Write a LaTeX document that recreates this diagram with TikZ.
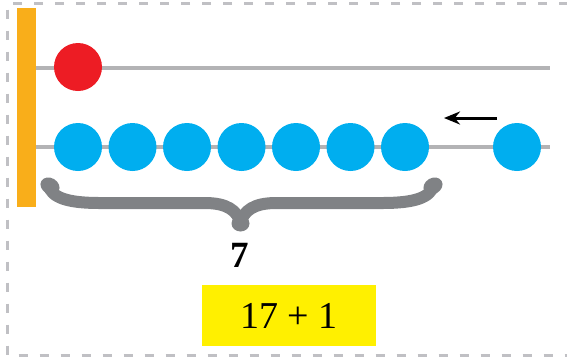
\documentclass[tikz,border=0pt]{standalone}
\usepackage{fontspec}
\setmainfont{Liberation Serif}
\usetikzlibrary{arrows.meta}
\definecolor{barorange}{HTML}{F9AE1A}
\definecolor{ballred}{HTML}{ED1C24}
\definecolor{ballblue}{HTML}{00AEEF}
\definecolor{wiregray}{HTML}{B3B3B5}
\definecolor{bracegray}{HTML}{808285}
\definecolor{boxyellow}{HTML}{FFF000}
\definecolor{framegray}{HTML}{C0C0C4}
\tikzset{
  ball/.style={circle, minimum size=48pt, inner sep=0pt, draw=none},
  redball/.style={ball, fill=ballred},
  blueball/.style={ball, fill=ballblue},
  wire/.style={draw=wiregray, line width=3.5pt},
  bracepath/.style={draw=bracegray, line width=12pt, line cap=round, line join=round},
  bracebulb/.style={fill=bracegray},
  frameline/.style={draw=framegray, line width=3pt, dash pattern=on 9pt off 12pt},
}
\begin{document}
\begin{tikzpicture}[x=1pt, y=-1pt]
\useasboundingbox (0,0) rectangle (567,360);
% frame
\draw[frameline] (568,3.5) -- (7,3.5) -- (7,355) -- (568,355);
% wires
\coordinate (w1s) at (36,68);
\coordinate (w1e) at (550,68);
\coordinate (w2s) at (36,147);
\coordinate (w2e) at (550,147);
\draw[wire] (w1s) -- (w1e);
\draw[wire] (w2s) -- (w2e);
% bar
\node[fill=barorange, minimum width=19pt, minimum height=199pt, inner sep=0pt, anchor=north west] (bar) at (17,8) {};
% balls
\node[redball] (r1) at (78,67) {};
\foreach \i/\x in {1/78,2/132.5,3/187,4/241.5,5/296,6/350.5,7/405}{
  \node[blueball] (b\i) at (\x,147) {};
}
\node[blueball] (b8) at (517,147) {};
% arrow
\coordinate (as) at (497,118);
\coordinate (ae) at (444,118);
\draw[line width=3pt, -{Stealth[length=16pt, width=13pt]}] (as) -- (ae);
% brace
\draw[bracepath] (48,184) .. controls (51,198) and (68,203) .. (100,203) -- (205,203)
  .. controls (226,203) and (238,210) .. (240.5,224)
  .. controls (243,210) and (255,203) .. (276,203) -- (382,203)
  .. controls (414,203) and (431,198) .. (434,184);
\fill[bracebulb, rotate around={-30:(50,186)}] (50,186) ellipse (10pt and 8pt);
\fill[bracebulb, rotate around={30:(433,186)}] (433,186) ellipse (10pt and 8pt);
\fill[bracebulb] (240.5,223.5) ellipse (9pt and 8pt);
% labels
\node[font=\bfseries\fontsize{37}{40}\selectfont, inner sep=0pt] (seven) at (240,255) {7};
\node[fill=boxyellow, minimum width=174pt, minimum height=61pt, inner sep=0pt, font=\fontsize{38}{40}\selectfont] (sum) at (289,315.5) {17 + 1};
\end{tikzpicture}
\end{document}
